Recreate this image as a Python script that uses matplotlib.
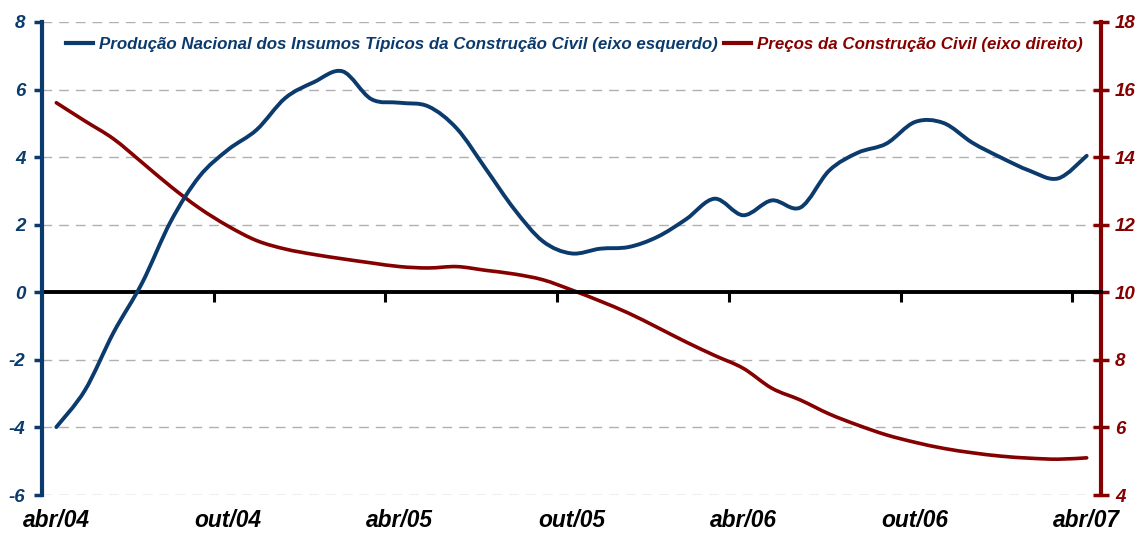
import matplotlib
matplotlib.use("Agg")
import matplotlib.pyplot as plt
from matplotlib.path import Path
from matplotlib.patches import PathPatch
from matplotlib.lines import Line2D
import numpy as np

months = ["abr/04", "mai/04", "jun/04", "jul/04", "ago/04", "set/04", "out/04", "nov/04", "dez/04",
          "jan/05", "fev/05", "mar/05", "abr/05", "mai/05", "jun/05", "jul/05", "ago/05", "set/05",
          "out/05", "nov/05", "dez/05", "jan/06", "fev/06", "mar/06", "abr/06", "mai/06", "jun/06",
          "jul/06", "ago/06", "set/06", "out/06", "nov/06", "dez/06", "jan/07", "fev/07", "mar/07", "abr/07"]

producao = [-3.99, -2.90, -1.19, 0.28, 2.10, 3.43, 4.22, 4.81, 5.75, 6.22, 6.54, 5.72, 5.61,
            5.50, 4.84, 3.66, 2.46, 1.51, 1.15, 1.29, 1.34, 1.64, 2.16, 2.77, 2.28, 2.72, 2.51,
            3.60, 4.13, 4.40, 5.04, 5.01, 4.43, 3.99, 3.60, 3.37, 4.04]

precos = [15.61, 15.07, 14.54, 13.84, 13.13, 12.49, 11.96, 11.53, 11.28, 11.12, 10.99, 10.87, 10.76,
          10.72, 10.76, 10.65, 10.54, 10.37, 10.07, 9.74, 9.38, 8.96, 8.53, 8.13, 7.75, 7.16, 6.81,
          6.40, 6.07, 5.78, 5.56, 5.38, 5.25, 5.15, 5.09, 5.06, 5.10]

label_prod = "Produção Nacional dos Insumos Típicos da Construção Civil (eixo esquerdo)"
label_prec = "Preços da Construção Civil (eixo direito)"

left_ticks = [-6, -4, -2, 0, 2, 4, 6, 8]
right_ticks = [4, 6, 8, 10, 12, 14, 16, 18]

BLUE = "#0b3a6c"
RED = "#850000"
FONT = "Liberation Sans"


def smooth_path(xs, ys):
    """Excel-style smoothed line: cubic Bezier segments through the data points."""
    xs = np.asarray(xs, float)
    ys = np.asarray(ys, float)
    n = len(xs)
    verts = [(xs[0], ys[0])]
    codes = [Path.MOVETO]
    for i in range(n - 1):
        i0 = max(i - 1, 0)
        i3 = min(i + 2, n - 1)
        c1 = (xs[i] + (xs[i + 1] - xs[i0]) / 6, ys[i] + (ys[i + 1] - ys[i0]) / 6)
        c2 = (xs[i + 1] - (xs[i3] - xs[i]) / 6, ys[i + 1] - (ys[i3] - ys[i]) / 6)
        verts += [c1, c2, (xs[i + 1], ys[i + 1])]
        codes += [Path.CURVE4] * 3
    return Path(verts, codes)


def style_labels(labels, size, color):
    for lab in labels:
        lab.set_fontfamily(FONT)
        lab.set_fontweight("bold")
        lab.set_fontstyle("italic")
        lab.set_fontsize(size)
        lab.set_color(color)


fig = plt.figure(figsize=(11.39, 5.37), dpi=100)
ax = fig.add_axes([42 / 1139, 1 - 495 / 537, (1101 - 42) / 1139, (495 - 22) / 537])
ax2 = ax.twinx()

x = np.arange(len(months))
ax.set_xlim(-0.5, len(months) - 0.5)
ax.set_ylim(-6, 8)
ax2.set_ylim(4, 18)

# grid (drawn on the right-axis layer, below everything else)
for t in right_ticks:
    if t != 10:
        ax2.axhline(t, color="#b0b0b0", lw=1.0, ls=(0, (7, 5)), zorder=0)

# zero line as bottom spine with boundary ticks
ax.spines["bottom"].set_position(("data", 0))
ax.spines["bottom"].set_color("black")
ax.spines["bottom"].set_linewidth(2.8)
ax.spines["bottom"].set_zorder(1)
ax.spines["top"].set_visible(False)
ax2.spines["top"].set_visible(False)
ax2.spines["bottom"].set_visible(False)
ax.spines["right"].set_visible(False)
boundaries = np.arange(5.5, len(months), 6)
ax.set_xticks(boundaries)
ax.tick_params(axis="x", which="major", length=7, width=2.2, color="black", direction="out", labelbottom=False)

# bottom category labels
sec = ax.secondary_xaxis(-0.0)
sec.spines["bottom"].set_visible(False)
sec.set_xticks(x[::6])
sec.set_xticklabels([months[i] for i in x[::6]])
sec.tick_params(length=0, pad=10)
style_labels(sec.get_xticklabels(), 16.4, "black")

# left axis
ax.spines["left"].set_color(BLUE)
ax.spines["left"].set_linewidth(3)
ax.set_yticks(left_ticks)
ax.set_yticklabels([str(t) for t in left_ticks])
ax.tick_params(axis="y", length=6, width=2.5, color=BLUE, direction="out", pad=6)
style_labels(ax.get_yticklabels(), 13.5, BLUE)

# right axis
ax2.spines["right"].set_color(RED)
ax2.spines["right"].set_linewidth(3)
ax2.spines["left"].set_visible(False)
ax2.set_yticks(right_ticks)
ax2.set_yticklabels([str(t) for t in right_ticks])
ax2.tick_params(axis="y", length=12, width=2.5, color=RED, direction="inout", pad=4)
style_labels(ax2.get_yticklabels(), 13.5, RED)

# series (smoothed lines)
ax2.add_patch(PathPatch(smooth_path(x, precos), facecolor="none", edgecolor=RED, lw=2.6,
                        capstyle="round", joinstyle="round", zorder=3))
ax.add_patch(PathPatch(smooth_path(x, producao), facecolor="none", edgecolor=BLUE, lw=2.8,
                       capstyle="round", joinstyle="round", zorder=4))
ax.set_zorder(ax2.get_zorder() + 1)
ax.patch.set_visible(False)

h1 = Line2D([], [], color=BLUE, lw=3)
h2 = Line2D([], [], color=RED, lw=3)
leg = ax.legend([h1, h2], [label_prod, label_prec], loc="upper left", bbox_to_anchor=(0.008, 1.0),
                ncol=2, frameon=False, handlelength=1.6, handletextpad=0.35, columnspacing=0.4,
                prop={"family": FONT, "weight": "bold", "style": "italic", "size": 12.2})
leg.get_texts()[0].set_color(BLUE)
leg.get_texts()[1].set_color(RED)

fig.savefig("out.png", dpi=100)
